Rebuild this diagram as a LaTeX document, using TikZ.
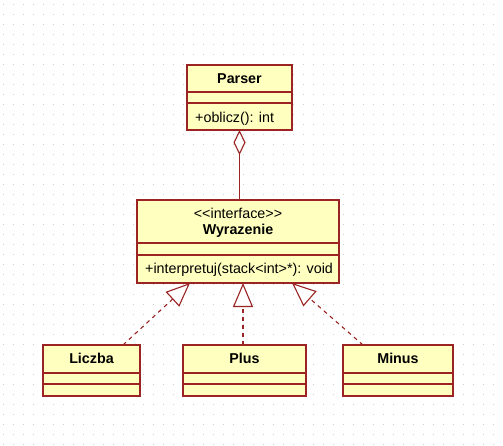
\documentclass[tikz,border=0pt]{standalone}
\usepackage{fontspec}
\setmainfont{Liberation Sans}
\usetikzlibrary{arrows.meta,calc}
\definecolor{umlborder}{RGB}{155,35,35}
\definecolor{umlfill}{RGB}{255,255,192}
\definecolor{griddot}{RGB}{205,205,205}
\tikzset{
  x=1pt, y=-1pt,
  every node/.style={font=\fontsize{14.3}{17}\selectfont, inner sep=0pt},
  classbox/.style={draw=umlborder, fill=umlfill, line width=1.6pt, rectangle, anchor=north west, outer sep=0pt},
  divider/.style={draw=umlborder, line width=1.4pt},
  classname/.style={anchor=base, font=\fontsize{14.3}{17}\selectfont\bfseries},
  member/.style={anchor=base west},
  realize/.style={draw=umlborder, line width=1.1pt, dash pattern=on 4pt off 4pt,
    -{Triangle[open, length=24pt, width=20pt, fill=white, line width=1.1pt]}},
  aggr/.style={draw=umlborder, line width=1.2pt,
    {Diamond[open, length=25pt, width=12pt, fill=white, line width=1.1pt]}-},
}
\begin{document}
\begin{tikzpicture}
\useasboundingbox (0,0) rectangle (503,445);
\fill[white] (0,0) rectangle (503,445);

% background dot grid
\foreach \i in {0,...,50}
  \foreach \j in {0,...,44}
    \fill[griddot] ({2.5+10*\i},{4+10*\j}) rectangle ++(1.2,1.2);

% Parser
\node[classbox, minimum width=105pt, minimum height=65pt] (parser) at (187,65) {};
\draw[divider] ($(parser.north west)+(0,27)$) -- ($(parser.north east)+(0,27)$);
\draw[divider] ($(parser.north west)+(0,38)$) -- ($(parser.north east)+(0,38)$);
\node[classname] (parsername) at ($(parser.north)+(0,18)$) {Parser};
\node[member] (parserop) at ($(parser.north west)+(8,57)$) {+oblicz(): int};

% Wyrazenie (interface)
\node[classbox, minimum width=202pt, minimum height=83pt] (wyr) at (137,200) {};
\draw[divider] ($(wyr.north west)+(0,43)$) -- ($(wyr.north east)+(0,43)$);
\draw[divider] ($(wyr.north west)+(0,55)$) -- ($(wyr.north east)+(0,55)$);
\node[anchor=base] (wyrstereo) at ($(wyr.north)+(0,18)$) {<\kern0pt<interface>\kern0pt>};
\node[classname] (wyrname) at ($(wyr.north)+(0,34)$) {Wyrazenie};
\node[member] (wyrop) at ($(wyr.north west)+(8,73)$) {+interpretuj(stack<int>*): void};

% Liczba
\node[classbox, minimum width=97pt, minimum height=51pt] (liczba) at (43,345) {};
\draw[divider] ($(liczba.north west)+(0,28)$) -- ($(liczba.north east)+(0,28)$);
\draw[divider] ($(liczba.north west)+(0,39)$) -- ($(liczba.north east)+(0,39)$);
\node[classname] (liczbaname) at ($(liczba.north)+(0,18)$) {Liczba};

% Plus
\node[classbox, minimum width=123pt, minimum height=51pt] (plus) at (183,345) {};
\draw[divider] ($(plus.north west)+(0,28)$) -- ($(plus.north east)+(0,28)$);
\draw[divider] ($(plus.north west)+(0,39)$) -- ($(plus.north east)+(0,39)$);
\node[classname] (plusname) at ($(plus.north)+(0,18)$) {Plus};

% Minus
\node[classbox, minimum width=110pt, minimum height=51pt] (minus) at (343,345) {};
\draw[divider] ($(minus.north west)+(0,28)$) -- ($(minus.north east)+(0,28)$);
\draw[divider] ($(minus.north west)+(0,39)$) -- ($(minus.north east)+(0,39)$);
\node[classname] (minusname) at ($(minus.north)+(0,18)$) {Minus};

% aggregation Parser <>-- Wyrazenie
\draw[aggr] (parser.south) -- (parser.south |- wyr.north);

% realizations of the interface
\coordinate (liczbatop) at ($(liczba.north west)+(80,0)$);
\coordinate (plustop) at ($(plus.north west)+(60,0)$);
\coordinate (minustop) at ($(minus.north west)+(20,0)$);
\coordinate (tipl) at ($(wyr.south west)+(53,0)$);
\coordinate (tipp) at (plustop |- wyr.south);
\coordinate (tipm) at ($(wyr.south west)+(155,0)$);
\draw[realize] (liczbatop) -- (tipl);
\draw[realize] (plustop) -- (tipp);
\draw[realize] (minustop) -- (tipm);
\end{tikzpicture}
\end{document}
